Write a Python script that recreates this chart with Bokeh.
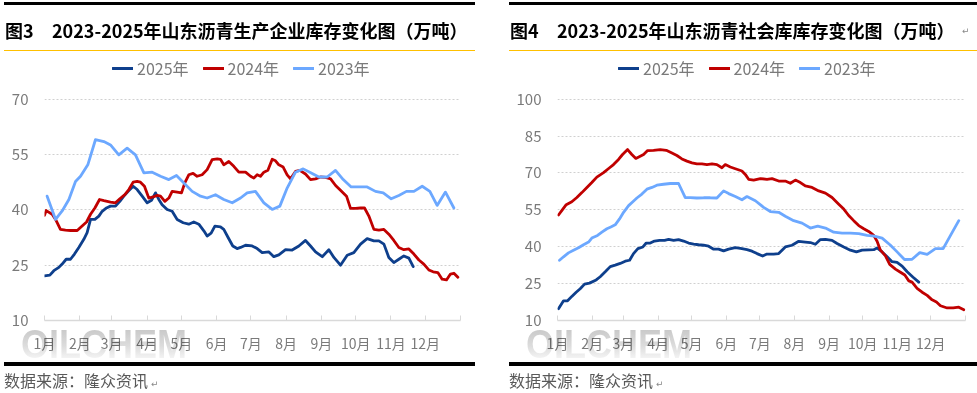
from bokeh.plotting import figure
from bokeh.models import Range1d, FixedTicker, Legend, LegendItem, Div
from bokeh.layouts import row, column
from bokeh.embed import file_html
from bokeh.resources import INLINE

# ---------------- data ----------------
MONTH_START = [0, 31, 59, 90, 120, 151, 181, 212, 243, 273, 304, 334, 365]
MONTH_LABELS = ["1月", "2月", "3月", "4月", "5月", "6月", "7月", "8月", "9月", "10月", "11月", "12月", ""]
SERIES_NAMES = ["2025年", "2024年", "2023年"]

# Fig.3  production-enterprise inventory (10k t), x = day of year
prod_2025_day = [0, 4.7, 8.2, 12.6, 15.5, 19.0, 22.8, 26.3, 30.1, 34.5, 37.4, 40.4, 44.2, 47.7, 50.6, 54.4,
                 57.9, 62.3, 66.1, 69.6, 73.4, 77.8, 81.3, 85.7, 90.1, 93.9, 97.4, 100.3, 103.2, 107.6, 112.0,
                 116.4, 121.7, 126.6, 131.0, 135.4, 139.8, 142.7, 146.2, 149.5, 154.4, 157.3, 161.1, 165.2,
                 169.0, 172.0, 176.4, 182.2, 186.6, 191.0, 196.9, 201.2, 205.6, 211.5, 217.3, 223.2, 229.0,
                 233.4, 237.8, 243.7, 249.5, 253.9, 259.7, 265.6, 271.4, 277.3, 283.1, 289.0, 293.4, 297.8,
                 302.1, 306.5, 310.9, 315.3, 319.7, 323.5]
prod_2025_val = [22.1, 22.3, 23.5, 24.4, 25.3, 26.6, 26.6, 28.0, 29.8, 32.0, 33.8, 37.4, 37.4, 38.3, 39.6, 40.5,
                 41.0, 41.0, 42.3, 43.7, 45.0, 46.4, 45.5, 43.7, 41.9, 42.6, 44.6, 42.8, 41.4, 40.1, 39.6,
                 37.4, 36.5, 36.1, 36.7, 36.1, 34.3, 32.9, 33.7, 35.6, 35.4, 34.7, 32.5, 30.2,
                 29.5, 29.8, 30.4, 30.2, 29.5, 28.4, 28.6, 27.3, 27.8, 29.2, 29.1, 30.2, 31.7,
                 30.2, 28.6, 27.3, 29.2, 27.1, 25.0, 27.7, 28.4, 30.7, 32.2, 31.6, 31.6, 30.7,
                 27.1, 25.7, 26.6, 27.5, 26.9, 24.6]

prod_2024_day = [0, 1.5, 6.7, 9.7, 14.0, 18.4, 22.8, 28.7, 33.0, 36.9, 40.4, 44.2, 48.3, 52.1, 57.9, 62.3,
                 66.1, 70.5, 74.0, 77.8, 81.3, 84.2, 87.7, 91.5, 95.3, 98.9, 101.8, 105.6, 109.1, 112.0,
                 116.4, 120.2, 123.1, 126.6, 130.4, 133.9, 138.3, 142.7, 147.1, 151.6, 154.4, 157.3, 161.7,
                 166.1, 170.5, 176.4, 180.8, 183.7, 186.6, 189.5, 192.5, 196.0, 199.8, 202.7, 205.6, 209.4,
                 212.9, 215.9, 220.2, 224.0, 229.0, 233.4, 237.8, 242.2, 246.6, 251.0, 255.4, 259.7, 265.0,
                 268.5, 272.9, 277.3, 280.8, 284.6, 289.0, 293.4, 297.8, 302.1, 306.5, 310.9, 315.3, 319.7,
                 324.1, 328.5, 332.8, 337.2, 341.0, 345.1, 348.9, 352.7, 356.2, 359.2, 362.7]
prod_2024_val = [38.5, 39.8, 38.8, 37.4, 34.7, 34.5, 34.4, 34.4, 35.6, 36.7, 38.8, 40.5, 42.8, 42.5, 42.1, 41.9,
                 43.0, 44.1, 45.5, 47.5, 47.7, 47.5, 46.4, 43.2, 43.5, 43.9, 43.7, 42.3, 43.2, 45.0,
                 44.8, 44.6, 47.3, 49.5, 49.9, 49.1, 49.5, 50.9, 53.6, 53.8, 53.7, 52.2, 53.1,
                 51.8, 50.2, 50.2, 49.1, 48.6, 49.5, 49.1, 50.2, 50.7, 53.7, 53.3, 52.2, 51.6,
                 49.5, 48.4, 50.4, 50.7, 49.7, 48.2, 48.4, 48.9, 48.8, 48.4, 46.6, 45.3, 43.7,
                 40.4, 40.4, 40.5, 40.5, 38.3, 34.7, 34.5, 34.7, 33.4, 31.7, 29.8, 29.2, 29.4,
                 28.0, 26.4, 25.3, 23.7, 23.2, 23.0, 21.2, 21.0, 22.6, 22.8, 21.7]

prod_2023_day = [2.3, 9.7, 15.5, 21.4, 27.2, 31.6, 38.0, 44.7, 52.1, 57.9, 65.2, 72.5, 79.8, 87.2, 94.5,
                 101.8, 109.1, 115.8, 122.3, 129.6, 136.9, 142.7, 150.0, 157.3, 164.7, 172.0, 177.8, 185.1,
                 192.5, 199.8, 206.5, 212.9, 220.2, 227.0, 234.0, 240.7, 248.0, 255.3, 262.1, 269.1, 275.8,
                 283.1, 290.4, 297.2, 304.2, 310.9, 317.6, 324.1, 331.4, 338.1, 344.5, 351.8, 359.2]
prod_2023_val = [43.7, 37.4, 39.7, 42.8, 47.7, 49.1, 52.2, 59.0, 58.5, 57.6, 54.9, 56.7, 54.9, 50.0, 50.2,
                 49.1, 48.2, 49.3, 47.3, 45.0, 43.7, 43.2, 44.1, 42.8, 41.9, 43.2, 44.6, 45.0,
                 41.9, 40.1, 41.0, 45.9, 50.2, 51.1, 50.0, 48.9, 48.9, 50.7, 48.2, 46.2, 46.2,
                 46.2, 45.0, 44.6, 43.0, 43.9, 45.0, 45.0, 46.4, 45.0, 41.2, 44.8, 40.5]

# Fig.4  social-warehouse inventory (10k t)
soc_2025_day = [0.9, 5.4, 9.0, 12.8, 16.7, 20.3, 24.2, 28.6, 34.6, 38.2, 42.7, 47.2, 51.6, 56.1, 60.6, 64.5,
                68.0, 71.9, 76.4, 79.4, 83.0, 86.8, 91.3, 95.8, 99.4, 103.9, 108.3, 112.8, 117.3, 121.8,
                126.2, 130.7, 135.2, 139.7, 144.1, 148.6, 153.1, 159.1, 165.0, 169.5, 174.0, 178.5, 183.5,
                187.4, 193.4, 197.9, 203.8, 209.8, 215.8, 221.7, 226.2, 230.7, 235.2, 239.7, 245.6, 250.1,
                256.1, 262.0, 267.4, 272.5, 278.4, 282.9, 285.9, 290.4, 294.9, 299.3, 303.8, 308.3, 312.8,
                318.1, 323.2]
soc_2025_val = [14.8, 18.0, 18.0, 19.8, 21.5, 22.9, 24.8, 25.2, 26.5, 27.8, 29.8, 31.9, 32.5, 33.2, 34.1, 34.5,
                37.2, 39.2, 39.9, 41.5, 41.5, 42.3, 42.6, 42.6, 43.0, 42.6, 42.9, 42.3, 41.5, 41.1,
                40.8, 40.6, 40.2, 39.0, 39.0, 38.3, 39.0, 39.6, 39.2, 38.8, 38.2, 37.2, 36.2,
                37.0, 37.0, 37.2, 39.9, 40.6, 42.2, 41.9, 41.7, 41.0, 42.9, 43.0, 42.6, 41.3,
                39.9, 38.6, 37.9, 38.6, 38.7, 38.8, 39.5, 37.9, 35.9, 33.9, 33.6, 32.1, 29.8,
                27.6, 25.6]

soc_2024_day = [0.9, 4.8, 7.8, 12.8, 17.3, 21.8, 26.3, 30.7, 35.2, 41.2, 46.6, 50.1, 54.6, 58.2, 62.7, 66.5,
                70.1, 74.0, 77.0, 80.6, 85.9, 91.9, 97.3, 102.4, 106.8, 111.3, 115.8, 120.3, 124.7, 129.2,
                133.7, 138.2, 142.6, 147.1, 150.1, 154.6, 159.1, 165.0, 168.0, 171.0, 175.5, 181.5, 187.4,
                191.9, 197.9, 203.8, 208.3, 212.8, 217.3, 221.7, 227.7, 233.7, 239.7, 245.6, 251.6, 256.1,
                260.5, 265.0, 269.5, 274.0, 278.4, 282.9, 285.9, 288.9, 293.4, 297.2, 302.3, 306.8, 310.7,
                314.3, 317.2, 321.7, 326.2, 330.7, 335.1, 339.0, 342.6, 348.6, 354.0, 359.0, 363.5]
soc_2024_val = [52.9, 55.3, 57.1, 58.3, 60.0, 62.0, 64.1, 66.1, 68.3, 70.1, 72.1, 73.4, 75.5, 77.5, 79.5, 77.5,
                75.9, 76.8, 77.5, 79.1, 79.2, 79.5, 79.2, 78.1, 77.1, 75.7, 74.8, 74.1, 73.7, 73.7,
                73.4, 73.7, 73.4, 72.1, 73.4, 72.4, 71.7, 70.8, 69.4, 67.4, 67.1, 67.7, 67.4,
                67.7, 66.7, 66.7, 65.8, 67.1, 66.1, 64.7, 64.1, 62.7, 61.8, 60.0, 57.3, 55.3,
                52.7, 50.6, 48.6, 47.3, 46.2, 44.6, 42.2, 38.6, 36.3, 32.8, 30.9, 29.6, 28.5,
                26.1, 25.6, 23.1, 21.5, 20.2, 18.4, 17.5, 16.0, 15.1, 15.1, 15.4, 14.4]

soc_2023_day = [1.8, 5.4, 9.8, 14.3, 18.8, 23.3, 27.8, 30.7, 35.8, 39.7, 44.2, 47.7, 51.6, 55.5, 59.1, 63.6,
                67.4, 71.0, 75.5, 80.0, 84.5, 88.9, 94.9, 100.9, 108.3, 114.3, 118.8, 124.7, 130.7, 136.7,
                142.6, 148.6, 153.1, 159.1, 165.0, 169.5, 177.0, 184.4, 190.4, 197.9, 203.8, 211.3, 218.8,
                226.2, 232.8, 239.7, 247.1, 254.6, 262.0, 269.5, 277.0, 283.5, 290.4, 297.9, 303.8, 310.4,
                317.2, 324.1, 330.7, 338.1, 345.0, 351.6, 359.0]
soc_2023_val = [34.5, 35.9, 37.5, 38.6, 39.6, 40.8, 41.9, 43.5, 44.6, 45.9, 47.3, 48.0, 48.9, 51.3, 54.0, 56.7,
                58.3, 59.8, 61.4, 63.4, 64.1, 65.0, 65.4, 65.7, 65.7, 60.0, 60.0, 59.8, 59.9, 59.9,
                59.8, 62.7, 61.6, 60.4, 59.1, 60.4, 58.7, 56.0, 54.3, 54.0, 52.4, 50.6, 49.6,
                47.6, 48.4, 47.6, 45.9, 45.5, 45.5, 45.3, 44.6, 44.3, 43.5, 40.6, 37.9, 34.8,
                34.9, 37.6, 36.9, 39.2, 39.2, 44.6, 50.6]

PROD_YTICKS = [10, 25, 40, 55, 70]
SOC_YTICKS = [10, 25, 40, 55, 70, 85, 100]

TITLE3_NO = "图3"
TITLE3 = "2023-2025年山东沥青生产企业库存变化图（万吨）"
TITLE4_NO = "图4"
TITLE4 = "2023-2025年山东沥青社会库库存变化图（万吨）"
SOURCE = "数据来源：隆众资讯"
WATERMARK = "OILCHEM"

# ---------------- style / layout ----------------
FONT = "Noto Sans CJK SC"
GRAY = "#7a7a7a"
COLORS = ["#0E3F8C", "#C00000", "#6CA8FF"]
HEAD_H = 52
FIG_H = 303
FOOT_H = 38
PLOT_H = 223          # height of the value area (top tick to axis line)
EXTRA_TOP = 47        # room above the top tick, used by the legend
LEGEND_UP = 17        # legend bottom above the top tick
FRAME_BOTTOM = 33


def header(width, x0, x1, x_no, x_title, no, title, enter_x):
    enter = ""
    if enter_x is not None:
        enter = (f'<div style="position:absolute;left:{enter_x}px;top:27px;font-size:9px;line-height:9px;'
                 f'color:#888;font-family:\'DejaVu Sans\';font-weight:normal;">↵</div>')
    html = (
        f'<div style="position:relative;width:{width}px;height:{HEAD_H}px;overflow:hidden;'
        f'font-family:\'{FONT}\';font-weight:bold;font-size:18px;line-height:18px;color:#000;white-space:nowrap;">'
        f'<div style="position:absolute;left:{x0}px;top:2px;width:{x1 - x0}px;height:3px;background:#000;"></div>'
        f'<div style="position:absolute;left:{x_no}px;top:21px;">{no}</div>'
        f'<div style="position:absolute;left:{x_title}px;top:21px;">{title}</div>'
        f'{enter}'
        f'<div style="position:absolute;left:{x0}px;top:49.5px;width:{x1 - x0}px;height:1.5px;background:#FFC000;"></div>'
        f'</div>')
    return Div(text=html, width=width, height=HEAD_H, margin=0)


def footer(width, x0, x1, x_text, x_wm):
    html = (
        f'<div style="position:relative;width:{width}px;height:{FOOT_H}px;overflow:visible;'
        f'font-family:\'{FONT}\';font-size:16px;line-height:18px;color:#595959;white-space:nowrap;">'
        f'<div style="position:absolute;left:{x_wm}px;top:-32px;font-family:\'Liberation Sans\';font-weight:bold;'
        f'font-size:36px;line-height:36px;transform:scale(1,1.15);transform-origin:0 0;'
        f'background:linear-gradient(to bottom,#c2c2c2 0%,#dcdcdc 55%,#ffffff 100%);'
        f'-webkit-background-clip:text;background-clip:text;color:transparent;mix-blend-mode:multiply;">{WATERMARK}</div>'
        f'<div style="position:absolute;left:{x0}px;top:6.5px;width:{x1 - x0}px;height:4px;background:#000;"></div>'
        f'<div style="position:absolute;left:{x_text}px;top:16px;">{SOURCE}'
        f'<span style="font-size:9px;color:#888;font-family:\'DejaVu Sans\';margin-left:3px;">↵</span></div>'
        f'</div>')
    return Div(text=html, width=width, height=FOOT_H, margin=0, styles={"overflow": "visible"})


def panel(width, left, right, yticks, series, legend_x):
    y0, y1 = yticks[0], yticks[-1]
    y_top = y1 + (y1 - y0) * EXTRA_TOP / PLOT_H
    p = figure(width=width, height=FIG_H, x_range=Range1d(0, 365), y_range=Range1d(y0, y_top),
               output_backend="svg", toolbar_location=None,
               min_border_left=left, min_border_right=right,
               min_border_top=0, min_border_bottom=FRAME_BOTTOM)
    p.outline_line_color = None
    p.background_fill_color = "white"
    p.border_fill_color = "white"

    items = []
    for (xs, ys), name, col in zip(series, SERIES_NAMES, COLORS):
        r = p.line(xs, ys, line_color=col, line_width=2.8, line_join="round", line_cap="round")
        items.append(LegendItem(label=name, renderers=[r]))

    xa = p.xaxis[0]
    xa.ticker = FixedTicker(ticks=MONTH_START)
    xa.major_label_overrides = {t: l for t, l in zip(MONTH_START, MONTH_LABELS)}
    xa.axis_line_color = "#d9d9d9"
    xa.axis_line_width = 1.5
    xa.major_tick_in = 5
    xa.major_tick_out = 0
    xa.major_tick_line_color = "#d9d9d9"
    xa.minor_tick_line_color = None
    xa.major_label_text_font = FONT
    xa.major_label_text_font_size = "14px"
    xa.major_label_text_color = GRAY
    xa.major_label_standoff = 12

    ya = p.yaxis[0]
    ya.ticker = FixedTicker(ticks=yticks)
    ya.axis_line_color = None
    ya.major_tick_line_color = None
    ya.minor_tick_line_color = None
    ya.major_tick_out = 0
    ya.major_tick_in = 0
    ya.major_label_text_font = FONT
    ya.major_label_text_font_size = "15px"
    ya.major_label_text_color = GRAY
    ya.major_label_standoff = 16

    p.xgrid.grid_line_color = None
    p.ygrid.ticker = FixedTicker(ticks=yticks[1:])
    p.ygrid.grid_line_color = "#d0d0d0"
    p.ygrid.grid_line_dash = "2 2"
    p.ygrid.grid_line_width = 1

    legend = Legend(items=items, orientation="horizontal", location=(legend_x, PLOT_H + LEGEND_UP),
                    glyph_width=21, glyph_height=18, label_height=18, label_width=51,
                    label_standoff=4, spacing=14, padding=0, margin=0,
                    border_line_color=None, background_fill_alpha=0,
                    label_text_font=FONT, label_text_font_size="16px", label_text_color=GRAY)
    p.add_layout(legend)
    return p


p1 = panel(490, 44, 30, PROD_YTICKS,
           [(prod_2025_day, prod_2025_val), (prod_2024_day, prod_2024_val), (prod_2023_day, prod_2023_val)],
           68)
p2 = panel(487, 67, 12, SOC_YTICKS,
           [(soc_2025_day, soc_2025_val), (soc_2024_day, soc_2024_val), (soc_2023_day, soc_2023_val)],
           61)

col1 = column(header(490, 4, 475, 5, 52, TITLE3_NO, TITLE3, None), p1,
              footer(490, 4, 475, 4, 21), spacing=0)
col2 = column(header(487, 19, 487, 20, 67, TITLE4_NO, TITLE4, 472), p2,
              footer(487, 19, 487, 19, 36), spacing=0)
layout = row(col1, col2, spacing=0)
open("out.html", "w").write(file_html(layout, INLINE))
